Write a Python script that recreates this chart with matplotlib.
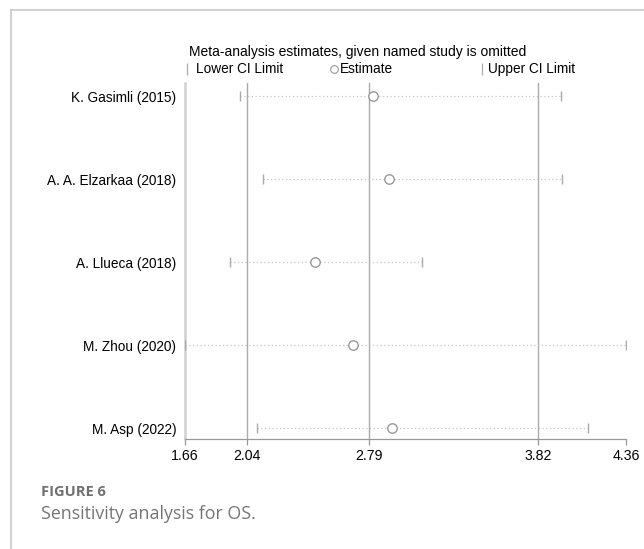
import matplotlib
matplotlib.use("Agg")
import matplotlib.pyplot as plt
from matplotlib.lines import Line2D

# Leave-one-out meta-analysis results
studies = ["K. Gasimli (2015)", "A. A. Elzarkaa (2018)", "A. Llueca (2018)",
           "M. Zhou (2020)", "M. Asp (2022)"]
estimate = [2.81, 2.91, 2.46, 2.69, 2.93]
lower_ci = [2.00, 2.14, 1.94, 1.66, 2.10]
upper_ci = [3.96, 3.97, 3.11, 4.36, 4.13]

# Pooled estimate with all studies, and axis ticks
pooled = [2.04, 2.79, 3.82]
x_ticks = [1.66, 2.04, 2.79, 3.82, 4.36]

FONT = ["Liberation Sans", "DejaVu Sans"]

W, H = 644, 549
fig = plt.figure(figsize=(W / 100, H / 100), dpi=100)
fig.patch.set_facecolor("white")

# outer frame (top and left edges only)
fig.add_artist(Line2D([11 / W, 1], [1 - 10 / H, 1 - 10 / H], color="#c8c8c8", lw=1.2))
fig.add_artist(Line2D([11 / W, 11 / W], [0, 1 - 10 / H], color="#c8c8c8", lw=1.2))

ax = fig.add_axes([184.7 / W, 110 / H, (626 - 184.7) / W, 356 / H])
rows = list(range(1, len(studies) + 1))

for x in pooled:
    ax.axvline(x, color="#aaaaaa", lw=1.0, zorder=1)

for y, lo, est, hi in zip(rows, lower_ci, estimate, upper_ci):
    ax.plot([lo, hi], [y, y], color="#c4c4c4", lw=0.9, ls=(0, (1, 2)), zorder=2)
    ax.plot([lo, hi], [y, y], ls="none", marker="|", markersize=7.5,
            markeredgewidth=1.0, color="#aaaaaa", zorder=3)
    ax.plot(est, y, marker="o", markersize=6.8, markerfacecolor="white",
            markeredgecolor="#999999", markeredgewidth=1.0, ls="none", zorder=4)

ax.set_xlim(x_ticks[0], x_ticks[-1])
ax.set_ylim(len(studies) + 0.13, 0.84)
ax.set_xticks(x_ticks)
ax.set_xticklabels([f"{v:.2f}" for v in x_ticks], fontsize=10.2, family=FONT)
ax.set_yticks(rows)
ax.set_yticklabels(studies, fontsize=9.8, family=FONT)
ax.tick_params(axis="x", length=4, color="#999999", width=0.9, pad=3)
ax.tick_params(axis="y", length=0, pad=6)

for side in ("top", "right"):
    ax.spines[side].set_visible(False)
ax.spines["left"].set_color("#d0d0d0")
ax.spines["left"].set_linewidth(1.8)
ax.spines["bottom"].set_color("#999999")
ax.spines["bottom"].set_linewidth(0.9)

# header and legend row
fig.text(189 / W, 1 - 52 / H, "Meta-analysis estimates, given named study is omitted",
         fontsize=10, family=FONT, va="center", ha="left", color="black")
ly = 1 - 69 / H
fig.add_artist(Line2D([187 / W], [ly], marker="|", markersize=8, color="#aaaaaa",
                      markeredgewidth=0.9, ls="none"))
fig.text(196 / W, ly, "Lower CI Limit", fontsize=9.8, family=FONT, va="center")
fig.add_artist(Line2D([334 / W], [ly], marker="o", markersize=5.5, markerfacecolor="white",
                      markeredgecolor="#999999", markeredgewidth=0.8, ls="none"))
fig.text(340 / W, ly, "Estimate", fontsize=9.8, family=FONT, va="center")
fig.add_artist(Line2D([482 / W], [ly], marker="|", markersize=8, color="#aaaaaa",
                      markeredgewidth=0.9, ls="none"))
fig.text(488 / W, ly, "Upper CI Limit", fontsize=9.8, family=FONT, va="center")

# caption
fig.text(41 / W, 1 - 492 / H, "FIGURE 6", fontsize=10.5, family=["Open Sans", "DejaVu Sans"],
         fontweight="bold", color="#707070", va="center")
fig.text(41 / W, 1 - 514 / H, "Sensitivity analysis for OS.", fontsize=12.8,
         family=["Open Sans", "DejaVu Sans"], color="#757575", va="center")

fig.savefig("out.png", dpi=100)
